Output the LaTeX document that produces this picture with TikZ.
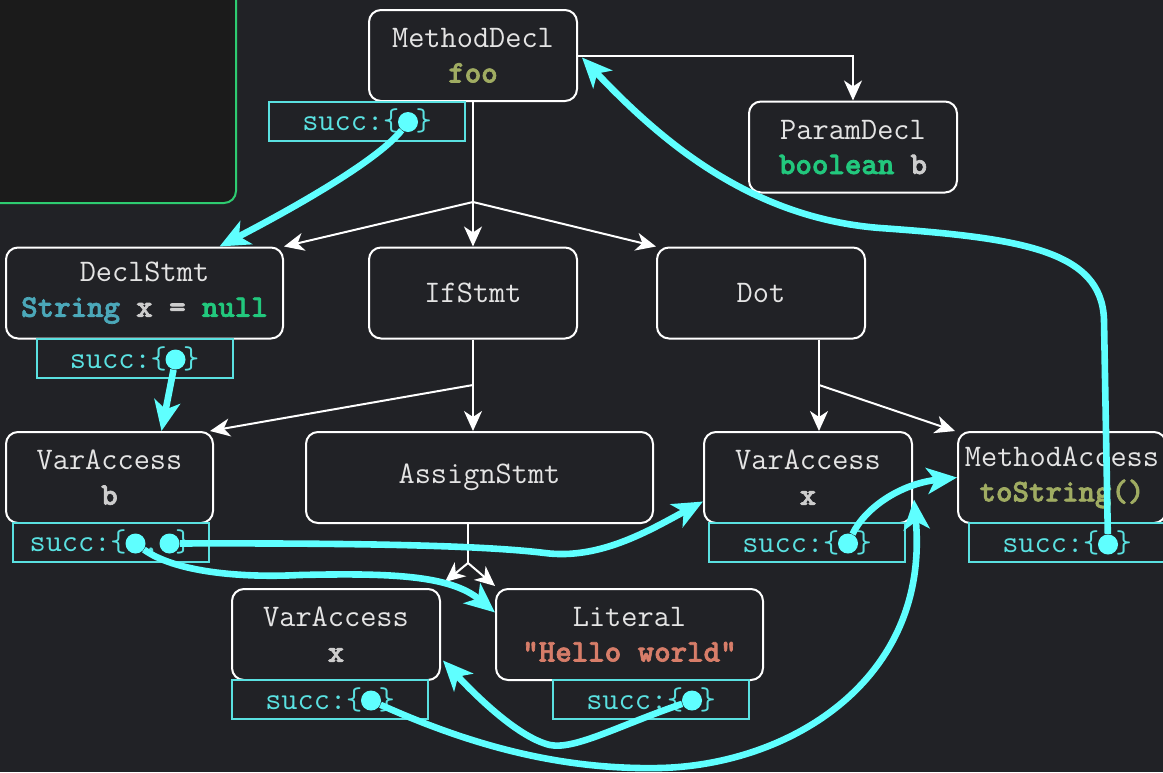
\documentclass[tikz,border=0pt]{standalone}
\usepackage{fontspec}
\newfontfamily\valfont{lmmonolt10-bold.otf}[FakeBold=2.2]
\usetikzlibrary{arrows.meta,calc}

\definecolor{bgc}{RGB}{33,34,38}
\definecolor{panelc}{RGB}{27,27,27}
\definecolor{panelline}{RGB}{46,204,113}
\definecolor{labelc}{RGB}{228,228,228}
\definecolor{succc}{RGB}{90,225,225}
\definecolor{flowc}{RGB}{95,255,255}
\definecolor{namec}{RGB}{160,172,98}
\definecolor{keyc}{RGB}{34,200,125}
\definecolor{typec}{RGB}{75,168,185}
\definecolor{varc}{RGB}{205,205,205}
\definecolor{strc}{RGB}{215,125,105}

\begin{document}
\begin{tikzpicture}[
    x=0.5pt, y=-0.5pt,
    ast/.style={
        draw=white,
        line width=1pt,
        rounded corners=6pt,
        fill=bgc,
        text=labelc,
        font=\ttfamily\fontsize{15.7}{17.5}\selectfont,
        align=center,
        inner sep=0pt,
        minimum width=104pt,
        minimum height=45.5pt
    },
    succbox/.style={
        draw=succc,
        line width=1pt,
        fill=bgc,
        text=succc,
        font=\ttfamily\fontsize{15.7}{17.5}\selectfont,
        inner sep=0pt,
        minimum width=98pt,
        minimum height=19.5pt
    },
    succdot/.style={circle, fill=flowc, inner sep=0pt, minimum size=10pt},
    tree/.style={white, line width=1pt},
    child/.style={tree, -{Stealth[length=10pt, width=9pt, inset=3pt]}},
    flow/.style={flowc, line width=3.3pt, -{Stealth[length=15pt, width=13pt, inset=4pt]}}
]

% Canvas
\useasboundingbox (0,0) rectangle (1163,772);
\fill[bgc] (0,0) rectangle (1163,772);
\draw[panelline, fill=panelc, line width=1pt, rounded corners=6pt] (-20,-20) rectangle (236,203);

% AST nodes
\node[ast] (md) at (473,55.5) {MethodDecl\\\textcolor{namec}{\valfont foo}};
\node[ast] (pd) at (853,147) {ParamDecl\\\textcolor{keyc}{\valfont boolean} \textcolor{varc}{\valfont b}};
\node[ast, minimum width=138.5pt] (ds) at (144.5,293) {DeclStmt\\\textcolor{typec}{\valfont String} \textcolor{varc}{\valfont x =} \textcolor{keyc}{\valfont null}};
\node[ast] (ifs) at (473,293) {IfStmt};
\node[ast] (dt) at (761,293) {Dot};
\node[ast, minimum width=103.5pt] (vb) at (109.5,477.5) {VarAccess\\\textcolor{varc}{\valfont b}};
\node[ast, minimum width=173.5pt] (as) at (479.5,477.5) {AssignStmt};
\node[ast] (vx) at (808,477.5) {VarAccess\\\textcolor{varc}{\valfont x}};
\node[ast] (ma) at (1062,477.5) {MethodAccess\\\textcolor{namec}{\valfont toString()}};
\node[ast] (vxb) at (336,634.5) {VarAccess\\\textcolor{varc}{\valfont x}};
\node[ast, minimum width=133.5pt] (lit) at (629.5,634.5) {Literal\\\textcolor{strc}{\valfont "Hello world"}};

% Successor boxes
\node[succbox] (mdS) at (367,121) {succ:\{ \}};
\node[succbox] (dsS) at (134.5,358.5) {succ:\{ \}};
\node[succbox] (vbS) at (110.5,542.5) {succ:\{ , \}};
\node[succbox] (vxS) at (807,542.5) {succ:\{ \}};
\node[succbox] (maS) at (1067,542.5) {succ:\{ \}};
\node[succbox] (vxbS) at (330,699.5) {succ:\{ \}};
\node[succbox] (litS) at (651,699.5) {succ:\{ \}};

% Child edges
\coordinate (j1) at (473,202);
\draw[tree] (md.south) -- (j1);
\draw[child] (j1) -- (ds.north east);
\draw[child] (j1) -- (ifs.north);
\draw[child] (j1) -- (dt.north west);
\draw[child] (md.east) -| (pd.north);

\coordinate (j2) at (473,385);
\draw[tree] (ifs.south) -- (j2);
\draw[child] (j2) -- ($(vb.north east)+(-4,0)$);
\draw[child] (j2) -- (j2 |- as.north);

\coordinate (j3) at (819,385);
\draw[tree] (j3 |- dt.south) -- (j3);
\draw[child] (j3) -- (j3 |- vx.north);
\draw[child] (j3) -- ($(ma.north west)+(-2,0)$);

\coordinate (j4) at (468,563);
\draw[tree] (j4 |- as.south) -- (j4);
\draw[child] (j4) -- ($(vxb.north east)+(4,-6)$);
\draw[child] (j4) -- ($(lit.north west)+(0,-2)$);

% Successor dots
\node[succdot] (mdD) at ($(mdS)+(41,1)$) {};
\node[succdot] (dsD) at ($(dsS)+(41,1)$) {};
\node[succdot] (vbD1) at ($(vbS)+(25,1)$) {};
\node[succdot] (vbD2) at ($(vbS)+(59,1)$) {};
\node[succdot] (vxD) at ($(vxS)+(41,1)$) {};
\node[succdot] (maD) at ($(maS)+(41,2)$) {};
\node[succdot] (vxbD) at ($(vxbS)+(41,1)$) {};
\node[succdot] (litD) at ($(litS)+(41,1)$) {};

% Control flow
\draw[flow] (mdD) .. controls (380,158) and (305,202) .. ($(ds.north)+(75,0)$);
\draw[flow] (dsD) -- ($(vb.north)+(52,0)$);
\draw[flow] (vbD1) .. controls (175,572) and (240,578) .. (300,575) .. controls (390,573) and (450,575) .. ($(lit.west)+(0,-22)$);
\draw[flow] (vbD2) .. controls (350,543) and (480,545) .. (545,553) .. controls (600,560) and (650,530) .. ($(vx.west)+(0,24)$);
\draw[flow] (vxD) .. controls (865,508) and (900,484) .. (ma.west);
\draw[flow] (vxbD) .. controls (470,745) and (560,770) .. (660,768) .. controls (790,765) and (930,680) .. ($(vx.east)+(1,22)$);
\draw[flow] (litD) .. controls (620,725) and (575,750) .. (550,745) .. controls (520,738) and (480,700) .. ($(vxb.east)+(2,26)$);
\draw[flow] (maD) -- (1104,320) .. controls (1102,250) and (1020,238) .. (880,228) .. controls (750,218) and (660,140) .. ($(md.east)+(4,2)$);

\end{tikzpicture}
\end{document}
